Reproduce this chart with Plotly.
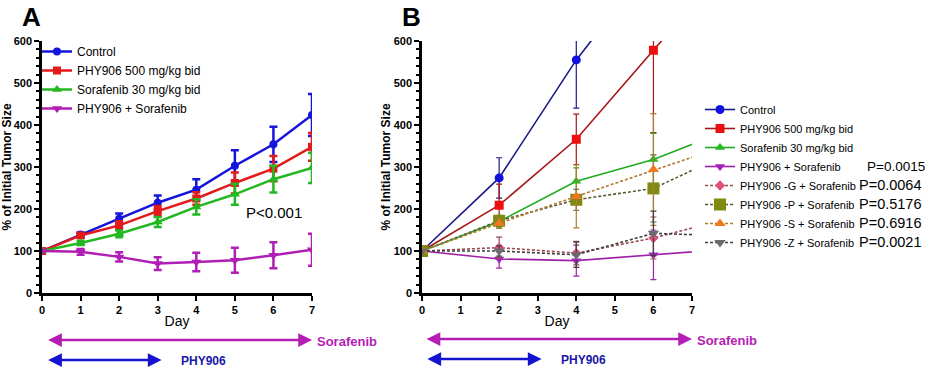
import plotly.graph_objects as go

# ---------------- Data ----------------
days_a = [0, 1, 2, 3, 4, 5, 6, 7]
ctrl_a = [100, 139, 177, 215, 246, 303, 354, 424]
ctrl_a_err = [0, 5, 12, 17, 25, 37, 42, 50]
phy_a = [100, 137, 161, 195, 225, 262, 296, 348]
phy_a_err = [0, 5, 10, 12, 15, 25, 30, 33]
sor_a = [100, 119, 141, 169, 205, 235, 271, 298]
sor_a_err = [0, 5, 8, 12, 18, 25, 32, 36]
combo_a = [100, 98, 86, 70, 74, 78, 90, 103]
combo_a_err = [0, 7, 11, 15, 22, 30, 31, 38]

days_b = [0, 2, 4, 6, 8]
ctrl_b = [100, 274, 555, 790, None]
ctrl_b_err = [0, 48, 115, 150, 0]
phy_b = [100, 209, 366, 578, 790]
phy_b_err = [0, 50, 60, 196, 0]
sor_b = [100, 170, 266, 318, 390]
sor_b_err = [0, 15, 32, 62, 0]
combo_b = [100, 81, 77, 91, 105]
combo_b_err = [0, 22, 37, 59, 0]
g_b = [100, 108, 95, 131, 179]
g_b_err = [0, 25, 28, 50, 0]
p_b = [100, 172, 222, 249, 335]
p_b_err = [0, 12, 25, 80, 0]
s_b = [100, 166, 230, 294, 354]
s_b_err = [0, 12, 75, 133, 0]
z_b = [100, 100, 91, 142, 136]
z_b_err = [0, 12, 30, 53, 0]

pvals_b = ["P=0.0015", "P=0.0064", "P=0.5176", "P=0.6916", "P=0.0021"]

FONT = "Liberation Sans, Arial, sans-serif"

fig = go.Figure()

# ---------------- Panel A ----------------
series_a = [
    ("Control", ctrl_a, ctrl_a_err, "#1414dc", "circle", 8),
    ("PHY906 500 mg/kg bid", phy_a, phy_a_err, "#e41a1a", "square", 8),
    ("Sorafenib 30 mg/kg bid", sor_a, sor_a_err, "#22b822", "triangle-up", 9),
    ("PHY906 + Sorafenib", combo_a, combo_a_err, "#b01eb4", "triangle-down", 9),
]
for name, vals, err, col, sym, size in series_a:
    fig.add_trace(go.Scatter(
        x=days_a, y=vals, name=name, mode="lines+markers",
        line=dict(color=col, width=2.5),
        marker=dict(color=col, symbol=sym, size=size),
        error_y=dict(type="data", array=err, color=col, thickness=2.5, width=4),
        xaxis="x", yaxis="y", legend="legend",
    ))

# ---------------- Panel B ----------------
series_b = [
    ("Control", ctrl_b, ctrl_b_err, "#1a1a88", "#1010e0", "circle", 9, "solid"),
    ("PHY906 500 mg/kg bid", phy_b, phy_b_err, "#a81818", "#ee1010", "square", 9, "solid"),
    ("Sorafenib 30 mg/kg bid", sor_b, sor_b_err, "#22aa22", "#22bb22", "triangle-up", 9, "solid"),
    ("PHY906 + Sorafenib", combo_b, combo_b_err, "#a020a8", "#a020c0", "triangle-down", 9, "solid"),
    ("PHY906 -G + Sorafenib", g_b, g_b_err, "#9a4a50", "#e0507a", "diamond", 8, "3px,2px"),
    ("PHY906 -P + Sorafenib", p_b, p_b_err, "#5a5a30", "#7f8a10", "square", 12, "3px,2px"),
    ("PHY906 -S + Sorafenib", s_b, s_b_err, "#b07a30", "#f07820", "triangle-up", 10, "3px,2px"),
    ("PHY906 -Z + Sorafenib", z_b, z_b_err, "#404040", "#6a6a70", "triangle-down", 10, "3px,2px"),
]
for name, vals, err, lcol, mcol, sym, size, dash in series_b:
    fig.add_trace(go.Scatter(
        x=days_b, y=vals, name=name, mode="lines+markers",
        line=dict(color=lcol, width=1.6, dash=dash),
        marker=dict(color=mcol, symbol=sym, size=size),
        error_y=dict(type="data", array=err, color=lcol, thickness=1.2, width=3),
        xaxis="x2", yaxis="y2", legend="legend2",
    ))

W, H = 926, 368
def px(xp):
    return xp / W
def py(yp):
    return (H - yp) / H

ydom = [py(293), py(41)]

axis_common = dict(
    showline=True, linecolor="black", linewidth=2.5, mirror=False, automargin=False,
    ticks="outside", ticklen=5, tickwidth=2, tickcolor="black",
    showgrid=False, zeroline=False,
    tickfont=dict(family=FONT, size=11, color="black", weight="bold"),
)
xax = dict(axis_common, range=[0, 7], dtick=1, tick0=0,
           title=dict(text="Day", font=dict(family=FONT, size=14, color="black"), standoff=2))
yax = dict(axis_common, range=[0, 600], dtick=100, tick0=0,
           minor=dict(dtick=20, ticks="outside", ticklen=3, tickwidth=1.5, tickcolor="black"),
           title=dict(text="% of Initial Tumor Size",
                      font=dict(family=FONT, size=12, color="black", weight="bold"), standoff=1))

fig.update_layout(
    width=W, height=H,
    margin=dict(l=0, r=0, t=0, b=0),
    paper_bgcolor="white", plot_bgcolor="white",
    showlegend=True,
    xaxis=dict(xax, domain=[px(42), px(312)], anchor="y"),
    yaxis=dict(yax, domain=ydom, anchor="x"),
    xaxis2=dict(xax, domain=[px(422), px(692)], anchor="y2"),
    yaxis2=dict(yax, domain=ydom, anchor="x2"),
    legend=dict(x=px(37), y=py(37), xanchor="left", yanchor="top",
                bgcolor="rgba(0,0,0,0)", itemwidth=30, tracegroupgap=0,
                font=dict(family=FONT, size=12, color="black")),
    legend2=dict(x=px(700), y=py(95), xanchor="left", yanchor="top",
                 bgcolor="rgba(0,0,0,0)", itemwidth=30, tracegroupgap=0,
                 font=dict(family=FONT, size=11, color="black")),
)

def txt(text, x, y, size, color="black", bold=False, xanchor="center"):
    f = dict(family=FONT, size=size, color=color)
    if bold:
        f["weight"] = "bold"
    return dict(text=text, x=px(x), y=py(y), xref="paper", yref="paper", showarrow=False,
                xanchor=xanchor, yanchor="middle", font=f)

ann = []
ann.append(txt("A", 31, 17, 26, bold=True))
ann.append(txt("B", 411, 17, 26, bold=True))
ann.append(txt("P<0.001", 274, 212, 15))

# Treatment arrows
MAG = "#b41eb4"
NAVY = "#1818a8"
def dbl_arrow(xref, x0, x1, yp, col):
    return dict(x=x1, ax=x0, xref=xref, axref=xref, y=py(yp), yref="paper",
                ay=0, ayref="pixel", showarrow=True, arrowside="end+start",
                arrowhead=2, arrowsize=1.1, arrowwidth=2.5, arrowcolor=col,
                text="", standoff=0, startstandoff=0)

ann.append(dbl_arrow("x", 0.12, 7.0, 340, MAG))
ann.append(dbl_arrow("x", 0.12, 3.1, 360, "#1414d0"))
ann.append(dbl_arrow("x2", 0.08, 7.0, 339, MAG))
ann.append(dbl_arrow("x2", 0.1, 3.1, 359, "#1414d0"))
ann.append(txt("Sorafenib", 347, 341, 13, MAG, True))
ann.append(txt("PHY906", 203, 361, 12, NAVY, True))
ann.append(txt("Sorafenib", 727, 340, 13, MAG, True))
ann.append(txt("PHY906", 583, 360, 12, NAVY, True))

# P values next to panel B legend rows
row0 = 109
p_rows = [row0 + 19 * k for k in range(3, 8)]
p_x = [865, 857, 857, 857, 857]
p_sz = [13.5, 14.5, 14.5, 14.5, 14.5]
for t, yy, xx, sz in zip(pvals_b, p_rows, p_x, p_sz):
    ann.append(txt(t, xx, yy, sz, xanchor="left"))

fig.update_layout(annotations=ann)
fig.write_html("out.html", config={"displayModeBar": False},
               post_script="document.body.style.margin='0px';")
